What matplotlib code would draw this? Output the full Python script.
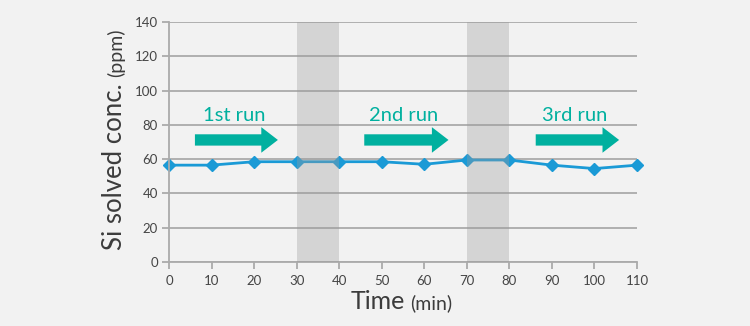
import matplotlib.pyplot as plt
from matplotlib.patches import FancyArrow

# data
time_min = [0, 10, 20, 30, 40, 50, 60, 70, 80, 90, 100, 110]
si_ppm = [56.5, 56.5, 58.5, 58.5, 58.5, 58.5, 57, 59.5, 59.5, 56.5, 54.5, 56.5]
pause_spans = [(30, 40), (70, 80)]
run_labels = ['1st run', '2nd run', '3rd run']
run_arrows = [(6.1, 25.6), (45.9, 65.7), (86.2, 105.8)]
x_ticks = list(range(0, 111, 10))
y_ticks = list(range(0, 141, 20))

bg = '#f2f2f2'
teal = '#00b09f'
blue = '#1a9ad6'
grey = '#ababab'
txt = '#3c3c3c'

plt.rcParams['font.family'] = ['Lato', 'DejaVu Sans']

fig = plt.figure(figsize=(7.5, 3.26), dpi=100, facecolor=bg)
ax = fig.add_axes([0.2253, 0.1963, 0.624, 0.7362], facecolor=bg)

ax.set_xlim(0, 110)
ax.set_ylim(0, 140)
ax.set_xticks(x_ticks)
ax.set_yticks(y_ticks)
ax.yaxis.grid(True, color=grey, linewidth=1.3, zorder=0)
ax.set_axisbelow(True)
for s in ['top', 'right']:
    ax.spines[s].set_visible(False)
for s in ['left', 'bottom']:
    ax.spines[s].set_color(grey)
    ax.spines[s].set_linewidth(1.3)
ax.tick_params(axis='both', colors=grey, width=1.3, length=5, labelsize=9.5,
               labelcolor='#454545')
ax.tick_params(axis='x', pad=4)
ax.tick_params(axis='y', pad=3)

# the measured line
ax.plot(time_min, si_ppm, color=blue, linewidth=2, marker='D', markersize=6.5,
        zorder=2, clip_on=False)

# grey pause bands drawn over the line
for a, b in pause_spans:
    ax.axvspan(a, b, color='#9c9c9c', alpha=0.35, linewidth=0, zorder=3)

# run arrows and labels
for lab, (x0, x1) in zip(run_labels, run_arrows):
    arr = FancyArrow(x0, 71.2, x1 - x0, 0, width=6.6, head_width=14.9,
                     head_length=3.9, length_includes_head=True,
                     color=teal, linewidth=0, zorder=4)
    ax.add_patch(arr)
    ax.text((x0 + x1) / 2 - 0.6, 82.3, lab, color=teal, fontsize=14.5,
            ha='center', va='baseline', zorder=4)

# axis titles with smaller unit text
fig.canvas.draw()
r = fig.canvas.get_renderer()

fig.text(405 / 750, 1 - 309 / 326, 'Time', fontsize=18, color=txt,
         ha='right', va='baseline')
fig.text(410 / 750, 1 - 309 / 326, '(min)', fontsize=14, color=txt,
         ha='left', va='baseline')

y1 = fig.text(122 / 750, 1 - 250 / 326, 'Si solved conc.', fontsize=18.5, color=txt,
              rotation=90, rotation_mode='anchor', ha='left', va='baseline')
bb = y1.get_window_extent(r)
fig.text(122 / 750, (bb.y1 + 6) / 326, '(ppm)', fontsize=14, color=txt,
         rotation=90, rotation_mode='anchor', ha='left', va='baseline')

fig.savefig('out.png', dpi=100, facecolor=bg)
